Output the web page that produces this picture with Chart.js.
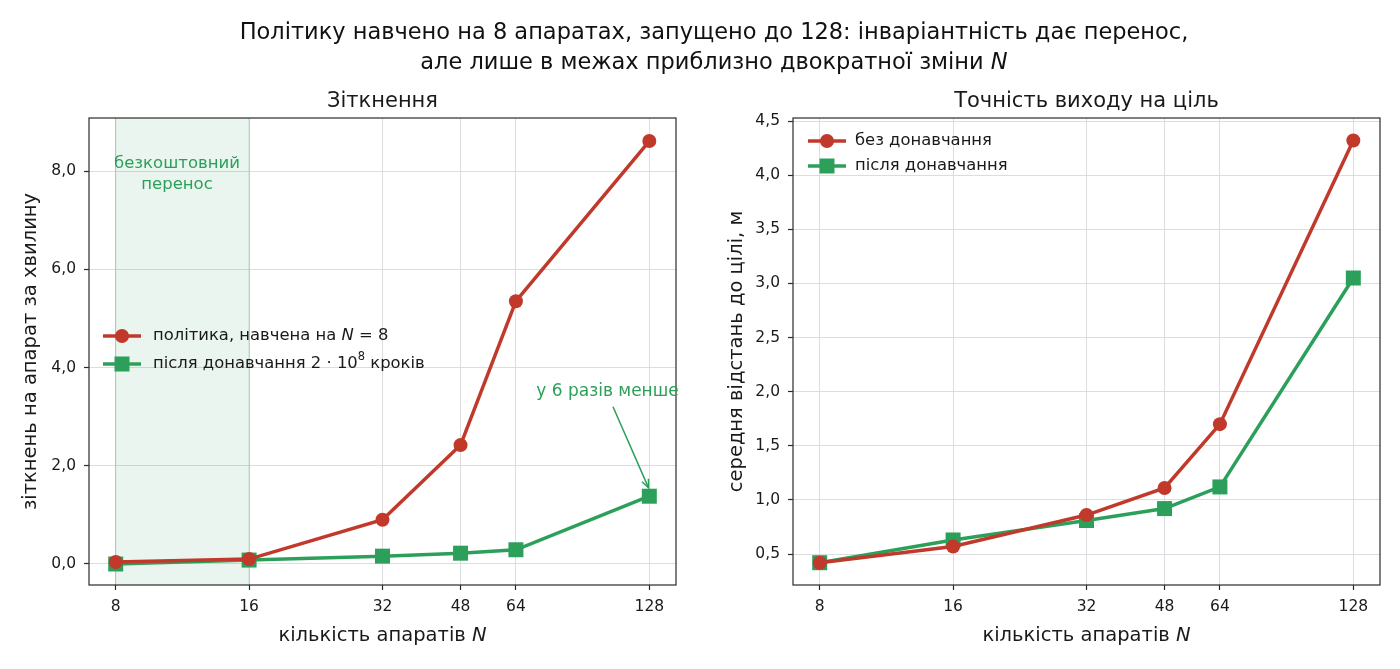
<!DOCTYPE html>
<html><head><meta charset="utf-8">
<script src="https://cdn.jsdelivr.net/npm/chart.js@4.4.0/dist/chart.umd.min.js"></script>
<style>
html,body{margin:0;padding:0;background:#fff;}
#wrap{position:relative;width:1400px;height:669px;overflow:hidden;font-family:"DejaVu Sans",sans-serif;}
#title{position:absolute;left:14px;top:16px;width:1400px;text-align:center;font-size:22.5px;line-height:30px;color:#111;}
canvas{position:absolute;top:0;}
</style></head><body>
<div id="wrap">
<canvas id="c1" width="700" height="669" style="left:0"></canvas>
<canvas id="c2" width="700" height="669" style="left:700px"></canvas>
<div id="title">Політику навчено на 8 апаратах, запущено до 128: інваріантність дає перенос,<br>але лише в межах приблизно двократної зміни <i>N</i></div>
</div>
<script>
// ---- data ----
const N = [8, 16, 32, 48, 64, 128];
const xTicks = [8, 16, 32, 48, 64, 128];
const collisionsBase = [0.04, 0.10, 0.90, 2.42, 5.35, 8.61];
const collisionsTuned = [0.00, 0.08, 0.16, 0.22, 0.29, 1.38];
const distBase = [0.42, 0.57, 0.86, 1.11, 1.70, 4.32];
const distTuned = [0.42, 0.63, 0.81, 0.92, 1.12, 3.05];
const yTicksLeft = [0, 2, 4, 6, 8];
const yTicksRight = [0.5, 1.0, 1.5, 2.0, 2.5, 3.0, 3.5, 4.0, 4.5];

const RED = '#c0392b';
const GREEN = '#2ca05a';
const FONT = '"DejaVu Sans", sans-serif';
const TXT = '#1a1a1a';

function fmtComma(v) { return v.toFixed(1).replace('.', ','); }

function fontStr(size, italic) { return (italic ? 'italic ' : '') + size + 'px ' + FONT; }

function drawRich(ctx, parts, x, y, align, size, color) {
  ctx.save();
  ctx.fillStyle = color;
  ctx.textBaseline = 'middle';
  ctx.textAlign = 'left';
  let total = 0;
  const widths = parts.map(p => {
    ctx.font = fontStr(p.sup ? size * 0.7 : size, p.i);
    const w = ctx.measureText(p.t).width;
    total += w;
    return w;
  });
  let cx = align === 'center' ? x - total / 2 : (align === 'right' ? x - total : x);
  parts.forEach((p, k) => {
    ctx.font = fontStr(p.sup ? size * 0.7 : size, p.i);
    ctx.fillText(p.t, cx, p.sup ? y - size * 0.4 : y);
    cx += widths[k];
  });
  ctx.restore();
}

function drawMarker(ctx, style, x, y, color) {
  ctx.save();
  ctx.fillStyle = color;
  ctx.beginPath();
  if (style === 'circle') { ctx.arc(x, y, 7, 0, Math.PI * 2); }
  else { ctx.rect(x - 7.5, y - 7.5, 15, 15); }
  ctx.fill();
  ctx.restore();
}

const decor = {
  id: 'decor',
  beforeDatasetsDraw(chart, args, o) {
    const ctx = chart.ctx, a = chart.chartArea, xs = chart.scales.x;
    if (o.span) {
      const x0 = xs.getPixelForValue(o.span[0]), x1 = xs.getPixelForValue(o.span[1]);
      ctx.save();
      ctx.fillStyle = 'rgba(44,160,90,0.10)';
      ctx.fillRect(x0, a.top, x1 - x0, a.bottom - a.top);
      ctx.strokeStyle = 'rgba(44,130,90,0.25)';
      ctx.lineWidth = 1;
      ctx.beginPath();
      ctx.moveTo(x0, a.top); ctx.lineTo(x0, a.bottom);
      ctx.moveTo(x1, a.top); ctx.lineTo(x1, a.bottom);
      ctx.stroke();
      ctx.restore();
    }
  },
  afterDraw(chart, args, o) {
    const ctx = chart.ctx, a = chart.chartArea, xs = chart.scales.x, ys = chart.scales.y;
    ctx.save();
    ctx.strokeStyle = '#2b2b2b';
    ctx.lineWidth = 1.2;
    ctx.strokeRect(a.left, a.top, a.right - a.left, a.bottom - a.top);
    ctx.restore();
    const cx = (a.left + a.right) / 2;
    drawRich(ctx, [{ t: o.title }], cx, a.top - 16, 'center', 21, TXT);
    drawRich(ctx, o.xTitle, cx, a.bottom + 51, 'center', 19.5, TXT);
    ctx.save();
    ctx.translate(o.yTitleX, (a.top + a.bottom) / 2);
    ctx.rotate(-Math.PI / 2);
    drawRich(ctx, [{ t: o.yTitle }], 0, 0, 'center', 19.5, TXT);
    ctx.restore();
    if (o.spanText) {
      o.spanText.lines.forEach((l, k) => {
        drawRich(ctx, [{ t: l }], xs.getPixelForValue(o.spanText.x), ys.getPixelForValue(o.spanText.y[k]), 'center', 16.5, GREEN);
      });
    }
    if (o.note) {
      const n = o.note;
      drawRich(ctx, [{ t: n.text }], xs.getPixelForValue(n.x), ys.getPixelForValue(n.y), 'center', 17, GREEN);
      const sx = xs.getPixelForValue(n.from[0]), sy = ys.getPixelForValue(n.from[1]);
      const ex = xs.getPixelForValue(n.to[0]), ey = ys.getPixelForValue(n.to[1]);
      const ang = Math.atan2(ey - sy, ex - sx);
      ctx.save();
      ctx.strokeStyle = GREEN; ctx.lineWidth = 1.5;
      ctx.beginPath(); ctx.moveTo(sx, sy); ctx.lineTo(ex, ey); ctx.stroke();
      ctx.beginPath();
      ctx.moveTo(ex - 9 * Math.cos(ang - 0.4), ey - 9 * Math.sin(ang - 0.4));
      ctx.lineTo(ex, ey);
      ctx.lineTo(ex - 9 * Math.cos(ang + 0.4), ey - 9 * Math.sin(ang + 0.4));
      ctx.stroke();
      ctx.restore();
    }
    if (o.legend) {
      const L = o.legend;
      L.items.forEach((it, k) => {
        const y = L.y + k * L.dy;
        ctx.save();
        ctx.strokeStyle = it.color; ctx.lineWidth = 3.5;
        ctx.beginPath(); ctx.moveTo(L.x, y); ctx.lineTo(L.x + 38, y); ctx.stroke();
        ctx.restore();
        drawMarker(ctx, it.marker, L.x + 19, y, it.color);
        drawRich(ctx, it.parts, L.x + L.textOff, y, 'left', 16.4, TXT);
      });
    }
  }
};

function ds(label, vals, color, marker) {
  return {
    label, data: N.map((n, i) => ({ x: n, y: vals[i] })),
    borderColor: color, backgroundColor: color, borderWidth: 3.5,
    pointStyle: marker, pointRadius: marker === 'rect' ? 10.6 : 7,
    pointHoverRadius: marker === 'rect' ? 10.6 : 7,
    pointBorderWidth: 0, pointBackgroundColor: color, tension: 0, clip: false
  };
}

function makeChart(id, datasets, yMin, yMax, yTicks, yWidth, padRight, decorOpts) {
  return new Chart(document.getElementById(id), {
    type: 'line',
    data: { datasets },
    options: {
      responsive: false, animation: false, devicePixelRatio: 1,
      layout: { padding: { left: 0, right: padRight, top: 118, bottom: 0 } },
      plugins: { legend: { display: false }, tooltip: { enabled: false }, title: { display: false }, decor: decorOpts },
      scales: {
        x: {
          type: 'logarithmic', min: 6.964, max: 147.03,
          afterBuildTicks: s => { s.ticks = xTicks.map(v => ({ value: v })); },
          afterFit: s => { s.height = 84; },
          ticks: { callback: v => String(v), autoSkip: false, maxRotation: 0, minRotation: 0, padding: 8, color: TXT, font: { family: FONT, size: 15.5 } },
          grid: { color: '#dcdce3', lineWidth: 1, tickColor: '#2b2b2b', tickLength: 5, tickWidth: 1.2, drawOnChartArea: true },
          border: { display: false }
        },
        y: {
          type: 'linear', min: yMin, max: yMax,
          afterBuildTicks: s => { s.ticks = yTicks.map(v => ({ value: v })); },
          afterFit: s => { s.width = yWidth; },
          ticks: { callback: v => fmtComma(v), padding: 8, color: TXT, font: { family: FONT, size: 15.5 } },
          grid: { color: '#dcdce3', lineWidth: 1, tickColor: '#2b2b2b', tickLength: 5, tickWidth: 1.2 },
          border: { display: false }
        }
      }
    },
    plugins: [decor]
  });
}

makeChart('c1', [
  ds('політика, навчена на N = 8', collisionsBase, RED, 'circle'),
  ds('після донавчання 2·10^8 кроків', collisionsTuned, GREEN, 'rect')
], -0.4275, 9.079, yTicksLeft, 89, 24, {
  title: 'Зіткнення',
  xTitle: [{ t: 'кількість апаратів ' }, { t: 'N', i: true }],
  yTitle: 'зіткнень на апарат за хвилину',
  yTitleX: 31,
  span: [8, 16],
  spanText: { x: 11, y: [8.15, 7.72], lines: ['безкоштовний', 'перенос'] },
  note: { text: 'у 6 разів менше', x: 103, y: 3.52, from: [106, 3.2], to: [127.5, 1.55] },
  legend: {
    x: 103, y: 336, dy: 28, textOff: 50, items: [
      { color: RED, marker: 'circle', parts: [{ t: 'політика, навчена на ' }, { t: 'N', i: true }, { t: ' = 8' }] },
      { color: GREEN, marker: 'rect', parts: [{ t: 'після донавчання 2 · 10' }, { t: '8', sup: true }, { t: ' кроків' }] }
    ]
  }
});

makeChart('c2', [
  ds('без донавчання', distBase, RED, 'circle'),
  ds('після донавчання', distTuned, GREEN, 'rect')
], 0.214, 4.528, yTicksRight, 93, 20, {
  title: 'Точність виходу на ціль',
  xTitle: [{ t: 'кількість апаратів ' }, { t: 'N', i: true }],
  yTitle: 'середня відстань до цілі, м',
  yTitleX: 37,
  legend: {
    x: 108, y: 141, dy: 25, textOff: 47, items: [
      { color: RED, marker: 'circle', parts: [{ t: 'без донавчання' }] },
      { color: GREEN, marker: 'rect', parts: [{ t: 'після донавчання' }] }
    ]
  }
});
</script>
</body></html>
